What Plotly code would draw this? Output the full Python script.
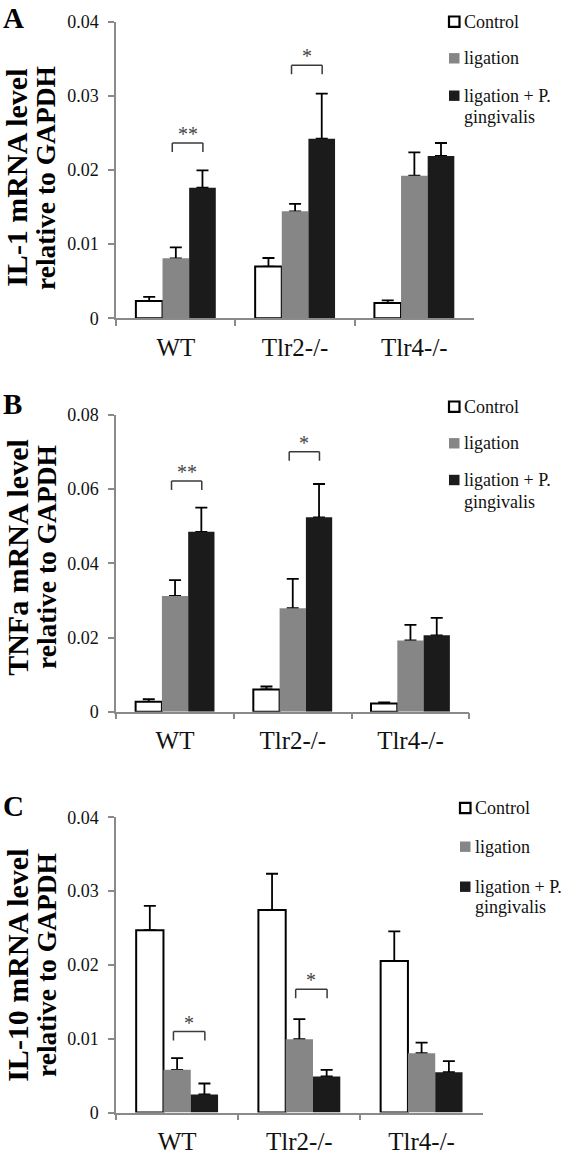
import plotly.graph_objects as go

# ---------------- data ----------------
groups = ["WT", "Tlr2-/-", "Tlr4-/-"]
series_names = ["Control", "ligation", "ligation + P.", "gingivalis"]

il1_control = [0.00234, 0.00697, 0.00207]
il1_control_err = [0.00054, 0.00116, 0.00036]
il1_ligation = [0.00809, 0.01443, 0.01924]
il1_ligation_err = [0.00148, 0.00099, 0.00314]
il1_pg = [0.01762, 0.02422, 0.02189]
il1_pg_err = [0.00234, 0.00607, 0.00175]

tnf_control = [0.0027, 0.0060, 0.0022]
tnf_control_err = [0.0007, 0.0008, 0.0003]
tnf_ligation = [0.0312, 0.0279, 0.0192]
tnf_ligation_err = [0.0043, 0.0079, 0.0042]
tnf_pg = [0.0485, 0.0524, 0.0206]
tnf_pg_err = [0.0065, 0.0090, 0.0047]

il10_control = [0.0247, 0.02745, 0.02054]
il10_control_err = [0.0033, 0.0049, 0.0040]
il10_ligation = [0.00578, 0.00993, 0.00804]
il10_ligation_err = [0.00158, 0.00271, 0.00144]
il10_pg = [0.00244, 0.00488, 0.00546]
il10_pg_err = [0.00149, 0.00090, 0.00149]

# significance brackets: (group index, bracket top value, label)
il1_sig = [(0, 0.02364, "**"), (1, 0.03412, "*")]
tnf_sig = [(0, 0.0622, "**"), (1, 0.0701, "*")]
il10_sig = [(0, 0.01097, "*"), (1, 0.01671, "*")]

y_titles = [("IL-1 mRNA level", "relative to GAPDH"),
            ("TNFa mRNA level", "relative to GAPDH"),
            ("IL-10 mRNA level", "relative to GAPDH")]
panel_letters = ["A", "B", "C"]

# ---------------- style / layout ----------------
W, H = 566, 1155
FONT = "Liberation Serif"
AX = "#8a8a8a"
C_WHITE, C_GRAY, C_BLACK = "#ffffff", "#868686", "#1b1b1b"


def fx(p):
    return p / W


def fy(p):
    return 1 - p / H


panels = [
    dict(data=[(il1_control, il1_control_err), (il1_ligation, il1_ligation_err), (il1_pg, il1_pg_err)],
         sig=il1_sig, yrange=[0, 0.04], dtick=0.01,
         xpx=(116.2, 474.0), ypx=(318.3, 21.7),
         letter_top=0, title_y=178, leg_x=449.5, leg_y=(21.7, 58.3, 95.7, 116.7)),
    dict(data=[(tnf_control, tnf_control_err), (tnf_ligation, tnf_ligation_err), (tnf_pg, tnf_pg_err)],
         sig=tnf_sig, yrange=[0, 0.08], dtick=0.02,
         xpx=(116.2, 469.3), ypx=(711.7, 415.0),
         letter_top=386, title_y=557, leg_x=449.5, leg_y=(406.7, 443.3, 480.0, 501.7)),
    dict(data=[(il10_control, il10_control_err), (il10_ligation, il10_ligation_err), (il10_pg, il10_pg_err)],
         sig=il10_sig, yrange=[0, 0.04], dtick=0.01,
         xpx=(116.0, 482.7), ypx=(1112.5, 817.3),
         letter_top=788, title_y=965, leg_x=460.5, leg_y=(808.0, 846.7, 886.7, 906.7)),
]

fills = [C_WHITE, C_GRAY, C_BLACK]
outlines = [("#000000", 2), (C_GRAY, 0), (C_BLACK, 0)]

fig = go.Figure()
shapes = []
annotations = []

for i, p in enumerate(panels):
    n = "" if i == 0 else str(i + 1)
    xa, ya = "x" + n, "y" + n
    # error-bar carriers (drawn first; their bottom cap is covered by the real bars)
    for k, (vals, errs) in enumerate(p["data"]):
        fig.add_trace(go.Bar(
            x=groups, y=vals, xaxis=xa, yaxis=ya, offsetgroup=str(k),
            marker=dict(color="rgba(0,0,0,0)", line=dict(width=0)),
            error_y=dict(type="data", array=errs, arrayminus=[0] * len(errs), symmetric=False,
                         color="#000000", thickness=1.8, width=6),
            showlegend=False, hoverinfo="skip"))
    for k, (vals, errs) in enumerate(p["data"]):
        lc, lw = outlines[k]
        fig.add_trace(go.Bar(
            x=groups, y=vals, xaxis=xa, yaxis=ya, offsetgroup=str(k),
            name=series_names[k], marker=dict(color=fills[k], line=dict(color=lc, width=lw)),
            showlegend=False))

    x0, x1 = p["xpx"]
    yb, yt = p["ypx"]
    fig.layout["xaxis" + n] = dict(
        domain=[fx(x0), fx(x1)], anchor=ya, type="category", range=[-0.5, 2.5],
        showline=True, linecolor=AX, linewidth=1.5, ticks="outside", tickson="boundaries",
        ticklen=6, tickcolor=AX, tickwidth=1.5, showgrid=False, zeroline=False,
        tickfont=dict(family=FONT, size=25, color="#111"), ticklabelstandoff=6)
    fig.layout["yaxis" + n] = dict(
        domain=[fy(yb), fy(yt)], anchor=xa, range=p["yrange"], dtick=p["dtick"], tick0=0,
        showline=True, linecolor=AX, linewidth=1.5, ticks="outside", ticklen=6,
        tickcolor=AX, tickwidth=1.5, showgrid=False, zeroline=False,
        tickfont=dict(family=FONT, size=18, color="#111"), ticklabelstandoff=6)

    # significance brackets
    plot_h = yb - yt
    leg = 9 * (p["yrange"][1] - p["yrange"][0]) / plot_h
    for g, top, lab in p["sig"]:
        bx0, bx1 = g - 0.03, g + 0.227
        line = dict(color="#3a3a3a", width=1.5)
        shapes.append(dict(type="line", xref=xa, yref=ya, x0=bx0, x1=bx1, y0=top, y1=top, line=line))
        shapes.append(dict(type="line", xref=xa, yref=ya, x0=bx0, x1=bx0, y0=top, y1=top - leg, line=line))
        shapes.append(dict(type="line", xref=xa, yref=ya, x0=bx1, x1=bx1, y0=top, y1=top - leg, line=line))
        annotations.append(dict(xref=xa, yref=ya, x=(bx0 + bx1) / 2, y=top, text=lab,
                                showarrow=False, yanchor="bottom", yshift=-4,
                                font=dict(family=FONT, size=20, color="#444")))

    # panel letter
    annotations.append(dict(xref="paper", yref="paper", x=fx(1), y=fy(p["letter_top"]),
                            xanchor="left", yanchor="top", text="<b>%s</b>" % panel_letters[i],
                            showarrow=False, font=dict(family=FONT, size=29, color="#000")))
    # y titles (two lines)
    l1, l2 = y_titles[i]
    for tx, xc, fs in ((l1, 16.8, 30), (l2, 46.0, 27.5)):
        annotations.append(dict(xref="paper", yref="paper", x=fx(xc), y=fy(p["title_y"]),
                                xanchor="center", yanchor="middle", textangle=-90,
                                text="<b>%s</b>" % tx, showarrow=False,
                                font=dict(family=FONT, size=fs, color="#000")))
    # legend
    lx = p["leg_x"]
    for k in range(3):
        cy = p["leg_y"][k]
        shapes.append(dict(type="rect", xref="paper", yref="paper",
                           x0=fx(lx - 0.5), x1=fx(lx + 10), y0=fy(cy - 5.2), y1=fy(cy + 5.2),
                           fillcolor=fills[k], line=dict(color="#000" if k == 0 else fills[k],
                                                         width=2.2 if k == 0 else 0)))
    for k in range(4):
        annotations.append(dict(xref="paper", yref="paper", x=fx(lx + 12), y=fy(p["leg_y"][k]),
                                xanchor="left", yanchor="middle", text=series_names[k],
                                showarrow=False, font=dict(family=FONT, size=18, color="#111")))

fig.update_layout(
    width=W, height=H, barmode="group", bargap=0.33, bargroupgap=0,
    margin=dict(l=0, r=0, t=0, b=0, autoexpand=False),
    paper_bgcolor="white", plot_bgcolor="white", showlegend=False,
    font=dict(family=FONT),
    shapes=shapes, annotations=annotations)

# remove the browser's default 8px page margin so the figure sits at the window origin
fig.write_html("out.html", config={"displayModeBar": False},
               post_script="document.body.style.margin='0';document.body.style.overflow='hidden';")
